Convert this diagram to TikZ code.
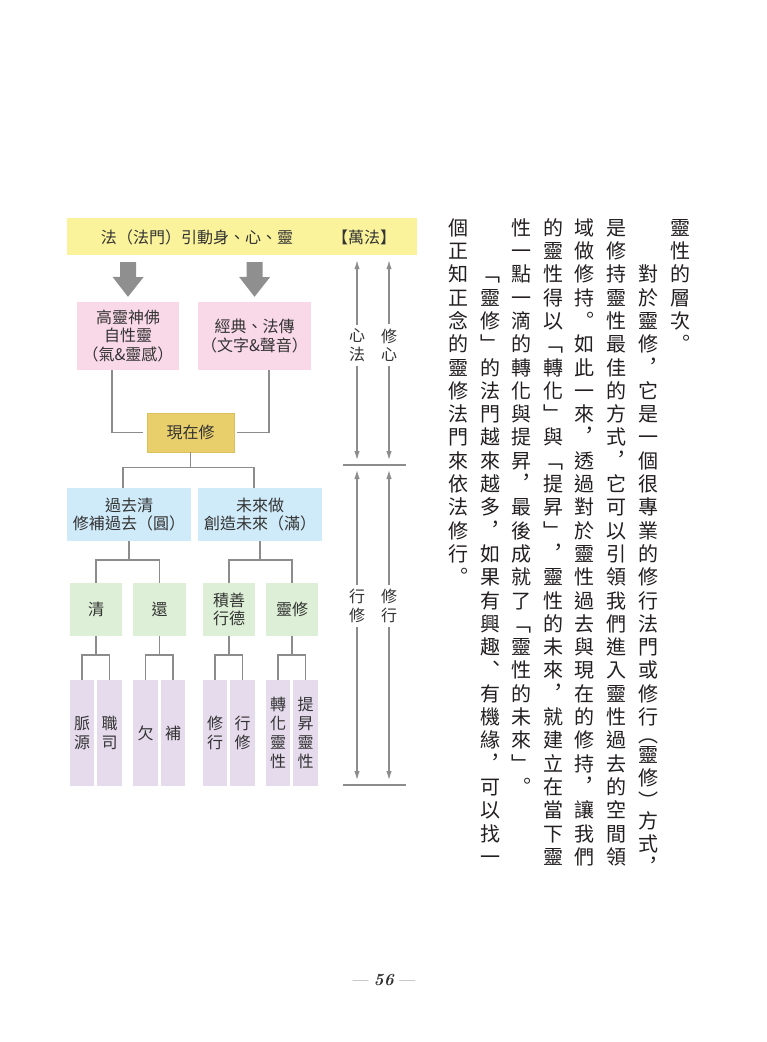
\documentclass[tikz,border=0pt]{standalone}
\usepackage{fontspec}
\newfontfamily\cjk{Noto Sans CJK TC}
\usetikzlibrary{calc, arrows.meta}
\definecolor{bannerfill}{HTML}{FAF39B}
\definecolor{arrowgray}{HTML}{8F8F8F}
\definecolor{pinkfill}{HTML}{F9D9E7}
\definecolor{goldfill}{HTML}{E9CF6C}
\definecolor{golddraw}{HTML}{DCC05A}
\definecolor{bluefill}{HTML}{CFEAF8}
\definecolor{greenfill}{HTML}{DDEFD6}
\definecolor{purplefill}{HTML}{E5DBED}
\definecolor{linegray}{HTML}{8C8C8C}
\definecolor{inkgray}{HTML}{333333}
\definecolor{bodyink}{HTML}{231F20}

% one column of vertical text
\newlength\vpitch
\setlength\vpitch{23.3bp}
\newcommand\vstack[1]{\vbox{\offinterlineskip\vstackloop#1\relax}}
\newcommand\vfull[1]{\hbox to\vpitch{\hss\vrule width0pt height.86\vpitch depth.14\vpitch\relax#1\hss}}
\newcommand\vhalf[2]{\hbox to\vpitch{\hss\vrule width0pt height.55\vpitch depth0pt\relax\raisebox{#2}{\smash{#1}}\hss}}
\def\vstackloop#1{%
  \ifx\relax#1\else
    \ifx︵#1\vhalf{#1}{-2bp}\else\ifx︶#1\vhalf{#1}{-6bp}\else\vfull{#1}\fi\fi
    \expandafter\vstackloop
  \fi}

\begin{document}
\begin{tikzpicture}[x=1bp, y=-1bp,
  boxtext/.style={inner sep=0pt, align=center, text=inkgray, font=\cjk\fontsize{16bp}{18.5bp}\selectfont},
  pinkbox/.style={boxtext, fill=pinkfill, minimum height=68bp},
  goldbox/.style={boxtext, fill=goldfill, draw=golddraw, line width=.6bp, minimum width=87bp, minimum height=39bp},
  bluebox/.style={boxtext, fill=bluefill, minimum width=124bp, minimum height=53bp},
  greenbox/.style={boxtext, fill=greenfill, minimum width=52.5bp, minimum height=53bp},
  purplebox/.style={boxtext, fill=purplefill, minimum width=24.5bp, minimum height=106bp, font=\cjk\fontsize{16bp}{19bp}\selectfont},
  treeline/.style={draw=linegray, line width=1.6bp},
  bigarrow/.style={fill=arrowgray},
  dimline/.style={draw=linegray, line width=1.2bp, shorten <=5bp, shorten >=5bp, {Latex[length=9bp,width=5.5bp]}-{Latex[length=9bp,width=5.5bp]}},
  dimlabel/.style={boxtext, fill=white, inner xsep=2bp, inner ysep=4.5bp},
  bodycol/.style={anchor=north, inner sep=0pt, text=bodyink, font=\cjk\fontsize{20bp}{23.3bp}\selectfont}]
  \useasboundingbox (0,0) rectangle (767,1042);

  % Banner
  \node[fill=bannerfill, minimum width=350bp, minimum height=37bp, inner sep=0pt] (banner) at (242,236.5) {};
  \node[boxtext] (bantext) at (197,237) {法（法門）引動身、心、靈};
  \node[boxtext] (wanfa) at (364,237) {【萬法】};

  % Sources
  \node[pinkbox, minimum width=102bp] (pk1) at (128,336) {高靈神佛\\自性靈\\（氣\&靈感）};
  \node[pinkbox, minimum width=113bp] (pk2) at (254.5,336) {經典、法傳\\（文字\&聲音）};

  % Present
  \node[goldbox] (xian) at (190.5,432.5) {現在修};

  % Past and future
  \node[bluebox] (bl1) at (129,514.5) {過去清\\修補過去（圓）};
  \node[bluebox] (bl2) at (260,514.5) {未來做\\創造未來（滿）};

  % Practices
  \node[greenbox] (gr1) at (96,609.5) {清};
  \node[greenbox] (gr2) at (159.5,609.5) {還};
  \node[greenbox] (gr3) at (229,609.5) {積善\\行德};
  \node[greenbox] (gr4) at (292,609.5) {靈修};

  % Details
  \node[purplebox] (pu1) at (82,733) {脈\\源};
  \node[purplebox] (pu2) at (109.5,733) {職\\司};
  \node[purplebox] (pu3) at (145.5,733) {欠};
  \node[purplebox] (pu4) at (173,733) {補};
  \node[purplebox] (pu5) at (215,733) {修\\行};
  \node[purplebox] (pu6) at (242.5,733) {行\\修};
  \node[purplebox] (pu7) at (278,733) {轉\\化\\靈\\性};
  \node[purplebox] (pu8) at (305.5,733) {提\\昇\\靈\\性};

  % Big arrows from the banner
  \fill[bigarrow] ($(banner.south -| pk1.north)+(-8,7)$) -- ++(16,0) -- ++(0,15) -- ++(7.5,0) -- ($(pk1.north)+(0,-5)$) -- ++(-15.5,-20) -- ++(7.5,0) -- cycle;
  \fill[bigarrow] ($(banner.south -| pk2.north)+(-8,7)$) -- ++(16,0) -- ++(0,15) -- ++(7.5,0) -- ($(pk2.north)+(0,-5)$) -- ++(-15.5,-20) -- ++(7.5,0) -- cycle;

  % Tree links
  \draw[treeline] ($(pk1.south)+(-16,0)$) |- ($(xian.west)+(-4,0)$);
  \draw[treeline] ($(pk2.south)+(14.5,0)$) |- ($(xian.east)+(3,0)$);
  \draw[treeline] (xian.south) -- ++(0,15) -| ($(bl1.north)+(-6,0)$);
  \draw[treeline] (xian.south) -- ++(0,15) -| ($(bl2.north)+(-6,0)$);
  \draw[treeline] (bl1.south) -- ++(0,19) -| (gr1.north);
  \draw[treeline] (bl1.south) -- ++(0,19) -| (gr2.north);
  \draw[treeline] (bl2.south) -- ++(0,19) -| (gr3.north);
  \draw[treeline] (bl2.south) -- ++(0,19) -| (gr4.north);
  \draw[treeline] (gr1.south) -- ++(0,19) -| (pu1.north);
  \draw[treeline] (gr1.south) -- ++(0,19) -| (pu2.north);
  \draw[treeline] (gr2.south) -- ++(0,19) -| (pu3.north);
  \draw[treeline] (gr2.south) -- ++(0,19) -| (pu4.north);
  \draw[treeline] (gr3.south) -- ++(0,19) -| (pu5.north);
  \draw[treeline] (gr3.south) -- ++(0,19) -| (pu6.north);
  \draw[treeline] (gr4.south) -- ++(0,19) -| (pu7.north);
  \draw[treeline] (gr4.south) -- ++(0,19) -| (pu8.north);

  % Side scale
  \coordinate (xl) at (357,0);
  \coordinate (xr) at (389,0);
  \coordinate (sepAl) at (343,465);
  \coordinate (sepAr) at (406,465);
  \coordinate (sepBl) at (343,785);
  \coordinate (sepBr) at (406,785);
  \draw[treeline] (sepAl) -- (sepAr);
  \draw[treeline] (sepBl) -- (sepBr);
  \draw[dimline] (banner.south -| xl) -- (sepAl -| xl) node[dimlabel, pos=.43] (xinfa) {心\\法};
  \draw[dimline] (banner.south -| xr) -- (sepAl -| xr) node[dimlabel, pos=.43] (xiuxin) {修\\心};
  \draw[dimline] (sepAl -| xl) -- (sepBl -| xl) node[dimlabel, pos=.44] (xingxiu) {行\\修};
  \draw[dimline] (sepAl -| xr) -- (sepBl -| xr) node[dimlabel, pos=.44] (xiuxing) {修\\行};

  % Body text, read right to left
  \node[bodycol] (col1) at (680,215) {\vstack{靈性的層次︒}};
  \node[bodycol] (col2) at (648,215) {\vstack{　　對於靈修︐它是一個很專業的修行法門或修行︵靈修︶方式︐}};
  \node[bodycol] (col3) at (616,215) {\vstack{是修持靈性最佳的方式︐它可以引領我們進入靈性過去的空間領}};
  \node[bodycol] (col4) at (584,215) {\vstack{域做修持︒如此一來︐透過對於靈性過去與現在的修持︐讓我們}};
  \node[bodycol] (col5) at (553,215) {\vstack{的靈性得以﹁轉化﹂與﹁提昇﹂︐靈性的未來︐就建立在當下靈}};
  \node[bodycol] (col6) at (521,215) {\vstack{性一點一滴的轉化與提昇︐最後成就了﹁靈性的未來﹂︒}};
  \node[bodycol] (col7) at (490,215) {\vstack{　　﹁靈修﹂的法門越來越多︐如果有興趣︑有機緣︐可以找一}};
  \node[bodycol] (col8) at (458,215) {\vstack{個正知正念的靈修法門來依法修行︒}};

  % Page number
  \node[text=inkgray, font=\fontsize{17bp}{20bp}\selectfont] (pagenum) at (384,980) {--- \textbf{\textit{56}} ---};
\end{tikzpicture}
\end{document}
